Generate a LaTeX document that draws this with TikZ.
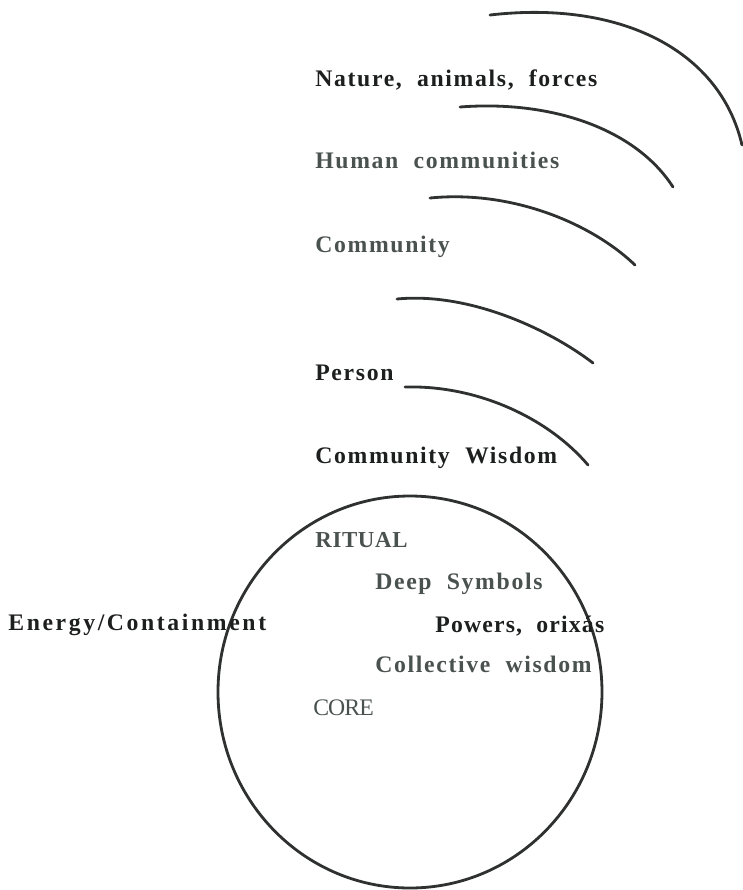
\documentclass[tikz,border=0pt]{standalone}
\usepackage{fontspec}
\setmainfont{Liberation Serif}
\newfontfamily\wide[LetterSpace=7,WordSpace=2]{Liberation Serif}
\usetikzlibrary{calc}

\definecolor{ink}{HTML}{1C1F1E}
\definecolor{slate}{HTML}{4A524F}
\definecolor{stroke}{HTML}{2E3130}

\tikzset{
  lbl/.style={anchor=base west, inner sep=0pt, font=\wide\bfseries\fontsize{13.5}{15}\selectfont, text=ink},
  lblgray/.style={lbl, text=slate},
  ring/.style={draw=stroke, line width=1.6pt, line cap=round}
}

\begin{document}
\begin{tikzpicture}[x=0.02cm, y=-0.02cm]
      \useasboundingbox (0,0) rectangle (743,890);
      % outer rings
      \draw[ring] (490,15) .. controls (620,0) and (720,50) .. (742,145);
      \draw[ring] (460,107) .. controls (550,100) and (635,128) .. (673,187);
      \draw[ring] (430,198) .. controls (510,190) and (590,222) .. (635,265);
      \draw[ring] (397,299) .. controls (470,292) and (550,330) .. (593,363);
      \draw[ring] (405,387) .. controls (480,385) and (550,420) .. (588,465);
      % core
      \draw[ring] (410,692) ellipse [x radius=192, y radius=196];
      % labels
      \node[lbl] (nature) at (315,86) {Nature, animals, forces};
      \node[lblgray] (human) at (315,168) {Human communities};
      \node[lblgray] (community) at (315,252) {Community};
      \node[lbl] (person) at (315,380) {Person};
      \node[lbl] (cwisdom) at (315,463) {Community Wisdom};
      \node[lbl, font=\wide\bfseries\fontsize{13.5}{15}\selectfont\addfontfeatures{LetterSpace=11}] (energy) at (8,630) {Energy/Containment};
      \node[lblgray, font=\fontsize{13}{15}\selectfont\bfseries\addfontfeatures{LetterSpace=3}] (ritual) at (315,547) {RITUAL};
      \node[lblgray] (symbols) at (375,589) {Deep Symbols};
      \node[lbl, font=\wide\bfseries\fontsize{13.5}{15}\selectfont\addfontfeatures{LetterSpace=5}] (powers) at (435,632) {Powers, orixás};
      \node[lblgray] (collective) at (375,672) {Collective wisdom};
      \node[lblgray, font=\fontsize{13.5}{15}\selectfont\addfontfeatures{LetterSpace=-4}] (core) at (313,715) {CORE};
    \end{tikzpicture}
\end{document}
